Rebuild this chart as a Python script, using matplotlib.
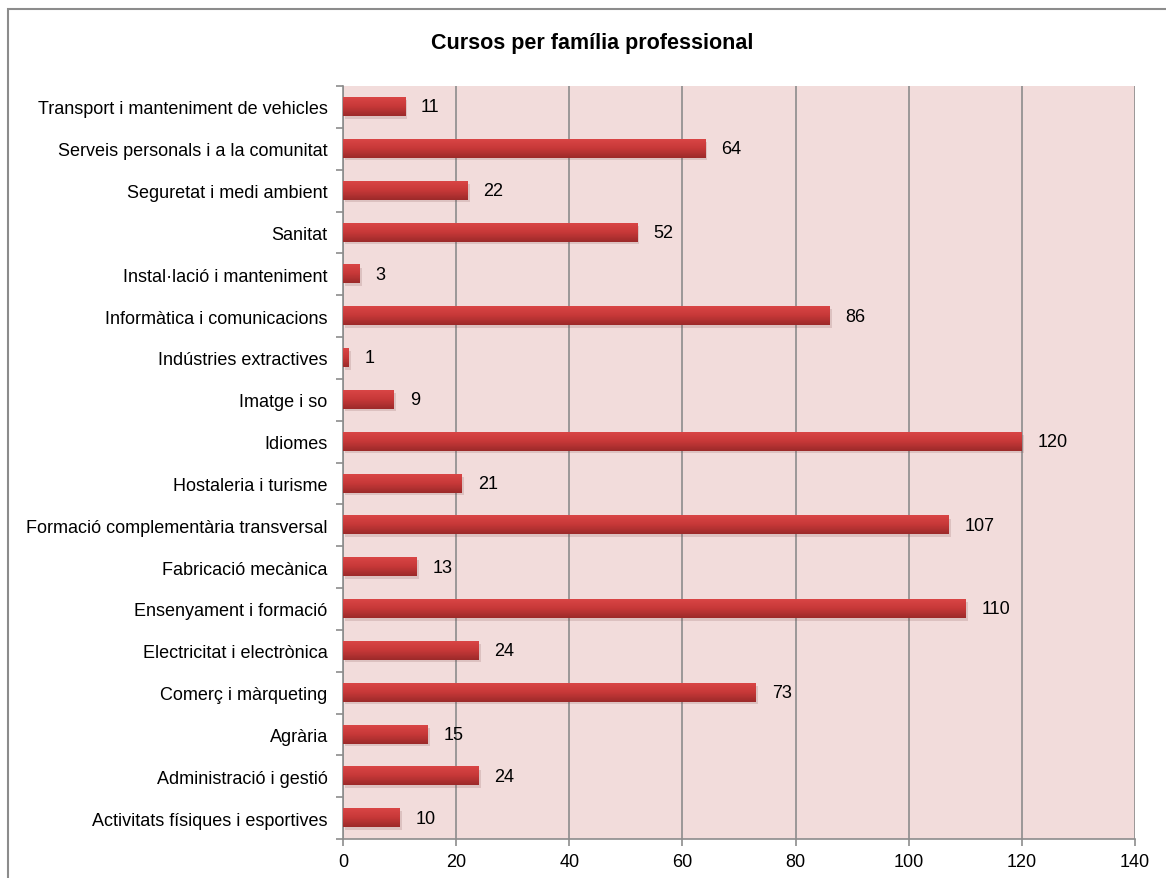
import matplotlib.pyplot as plt
import matplotlib.patches as patches
from matplotlib.colors import LinearSegmentedColormap
import numpy as np

plt.rcParams['font.family'] = ['Liberation Sans', 'DejaVu Sans']

# Categories listed bottom to top
familias = [
    'Activitats físiques i esportives',
    'Administració i gestió',
    'Agrària',
    'Comerç i màrqueting',
    'Electricitat i electrònica',
    'Ensenyament i formació',
    'Fabricació mecànica',
    'Formació complementària transversal',
    'Hostaleria i turisme',
    'Idiomes',
    'Imatge i so',
    'Indústries extractives',
    'Informàtica i comunicacions',
    'Instal·lació i manteniment',
    'Sanitat',
    'Seguretat i medi ambient',
    'Serveis personals i a la comunitat',
    'Transport i manteniment de vehicles',
]
cursos = [10, 24, 15, 73, 24, 110, 13, 107, 21, 120, 9, 1, 86, 3, 52, 22, 64, 11]
x_ticks = [0, 20, 40, 60, 80, 100, 120, 140]

fig = plt.figure(figsize=(11.66, 8.79), dpi=100)
ax = fig.add_axes([343 / 1166, 1 - 840 / 879, (1135 - 343) / 1166, (840 - 87) / 879])

# Outer chart frame (cut off at right and bottom like the reference)
fig.patches.append(patches.Rectangle((8 / 1166, -0.05), 1.2, 1 - 10 / 879 + 0.05,
                                     transform=fig.transFigure, fill=False,
                                     edgecolor='#8c8c8c', linewidth=1.5))

ax.set_facecolor('#f2dcdb')
y = np.arange(len(familias))
h = 0.44

# Shadow under bars
ax.barh(y - 0.06, cursos, height=h, left=0.4, color='#7a4a4a', alpha=0.18, zorder=2)
bars = ax.barh(y, cursos, height=h, color='#c0504d', zorder=3)

# Vertical gradient on each bar
cmap = LinearSegmentedColormap.from_list('bar', ['#d94545', '#c63838', '#9c2a2a'])
grad = np.linspace(0, 1, 64).reshape(-1, 1)
for b in bars:
    x0, y0 = b.get_x(), b.get_y()
    ax.imshow(grad, cmap=cmap, aspect='auto', origin='upper',
              extent=(x0, x0 + b.get_width(), y0, y0 + b.get_height()), zorder=4)

for yi, v in zip(y, cursos):
    ax.text(v + 2.8, yi, str(v), va='center', ha='left', fontsize=13, zorder=5)

ax.set_xlim(0, 140)
ax.set_ylim(-0.5, len(familias) - 0.5)
ax.set_xticks(x_ticks)
ax.set_xticklabels([str(t) for t in x_ticks], fontsize=13)
ax.set_yticks(y)
ax.set_yticklabels(familias, fontsize=13)
ax.set_yticks(np.arange(-0.5, len(familias), 1), minor=True)
ax.tick_params(axis='y', which='major', length=0, pad=11)
ax.tick_params(axis='y', which='minor', length=5, direction='out', color='#8c8c8c', width=1.2)
ax.tick_params(axis='x', length=5, direction='out', color='#8c8c8c', width=1.2, pad=5)

ax.grid(axis='x', color='#8c8c8c', linewidth=1.2, zorder=1)
ax.set_axisbelow(True)
for s in ['top', 'right']:
    ax.spines[s].set_visible(False)
for s in ['left', 'bottom']:
    ax.spines[s].set_color('#8c8c8c')
    ax.spines[s].set_linewidth(1.2)

fig.text(592 / 1166, 1 - 44 / 879, 'Cursos per família professional', ha='center',
         va='center', fontsize=15.5, fontweight='bold')

fig.savefig('out.png', dpi=100)
